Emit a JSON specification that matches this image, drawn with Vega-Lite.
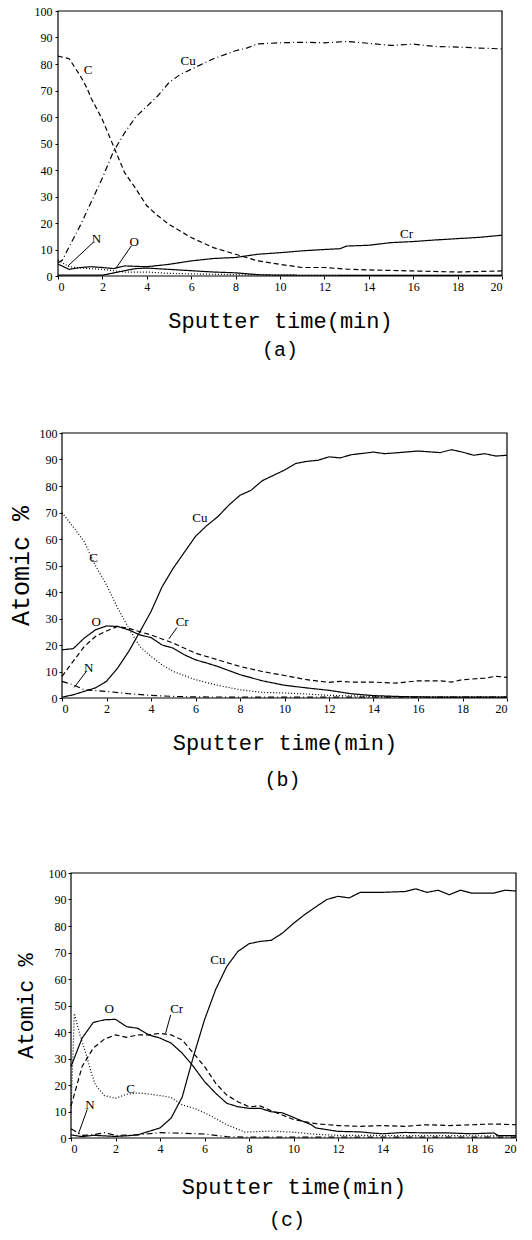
{
  "$schema": "https://vega.github.io/schema/vega-lite/v6.json",
  "padding": {"left": 8, "top": 5, "right": 0, "bottom": 0},
  "background": "white",
  "spacing": 77,
  "config": {
    "view": {"stroke": null},
    "axis": {"labelFont": "Liberation Serif", "labelFontSize": 12, "labelColor": "black", "tickColor": "black", "domain": false, "grid": false, "tickSize": 3, "labelPadding": 2, "labelOverlap": false, "titleFont": "Liberation Mono", "titleFontSize": 22, "titleFontWeight": "normal", "titleColor": "black"},
    "title": {"font": "Liberation Mono", "fontSize": 20, "fontWeight": "normal", "color": "black", "orient": "bottom", "anchor": "middle", "frame": "group"},
    "text": {"font": "Liberation Serif", "fontSize": 13, "color": "black"}
  },
  "resolve": {"scale": {"x": "independent", "y": "independent", "strokeDash": "independent"}},
  "datasets": {
    "frame": [{"t": 0, "v": 0, "t2": 20, "v2": 100}],
    "a_lines": [
      {"el":"Cu","t":0,"v":5},{"el":"Cu","t":0.2,"v":6},{"el":"Cu","t":0.5,"v":11},{"el":"Cu","t":1,"v":19},{"el":"Cu","t":1.5,"v":28},{"el":"Cu","t":2,"v":37},{"el":"Cu","t":2.5,"v":47},{"el":"Cu","t":3,"v":54},{"el":"Cu","t":3.5,"v":60},{"el":"Cu","t":4,"v":64},{"el":"Cu","t":4.5,"v":68},{"el":"Cu","t":5,"v":73},{"el":"Cu","t":5.5,"v":76},{"el":"Cu","t":6,"v":78},{"el":"Cu","t":7,"v":82},{"el":"Cu","t":8,"v":85},{"el":"Cu","t":8.5,"v":86},{"el":"Cu","t":9,"v":87.6},{"el":"Cu","t":10,"v":88},{"el":"Cu","t":11,"v":88.2},{"el":"Cu","t":12,"v":88},{"el":"Cu","t":13,"v":88.5},{"el":"Cu","t":14,"v":87.8},{"el":"Cu","t":15,"v":87},{"el":"Cu","t":16,"v":87.5},{"el":"Cu","t":17,"v":86.6},{"el":"Cu","t":18,"v":86.4},{"el":"Cu","t":19,"v":86},{"el":"Cu","t":20,"v":85.7},
      {"el":"C","t":0,"v":83},{"el":"C","t":0.5,"v":82},{"el":"C","t":1,"v":75.6},{"el":"C","t":1.3,"v":71},{"el":"C","t":1.5,"v":67},{"el":"C","t":2,"v":59},{"el":"C","t":2.5,"v":49},{"el":"C","t":3,"v":39},{"el":"C","t":3.5,"v":33},{"el":"C","t":4,"v":26.5},{"el":"C","t":4.5,"v":22.7},{"el":"C","t":5,"v":19.5},{"el":"C","t":5.5,"v":17},{"el":"C","t":6,"v":14.5},{"el":"C","t":7,"v":10.7},{"el":"C","t":8,"v":8.2},{"el":"C","t":9,"v":5.7},{"el":"C","t":10,"v":4.4},{"el":"C","t":11,"v":3.2},{"el":"C","t":12,"v":3.2},{"el":"C","t":13,"v":2.6},{"el":"C","t":14,"v":2.3},{"el":"C","t":16,"v":1.9},{"el":"C","t":18,"v":1.5},{"el":"C","t":20,"v":1.9},
      {"el":"Cr","t":0,"v":4.5},{"el":"Cr","t":0.5,"v":2.5},{"el":"Cr","t":1,"v":3.2},{"el":"Cr","t":1.5,"v":3.5},{"el":"Cr","t":2,"v":3.2},{"el":"Cr","t":2.5,"v":2.8},{"el":"Cr","t":3,"v":3.8},{"el":"Cr","t":4,"v":3.5},{"el":"Cr","t":5,"v":4.4},{"el":"Cr","t":6,"v":5.7},{"el":"Cr","t":7,"v":6.6},{"el":"Cr","t":8,"v":7},{"el":"Cr","t":9,"v":8.2},{"el":"Cr","t":10,"v":8.8},{"el":"Cr","t":11,"v":9.5},{"el":"Cr","t":12,"v":10},{"el":"Cr","t":12.7,"v":10.3},{"el":"Cr","t":13,"v":11.3},{"el":"Cr","t":14,"v":11.6},{"el":"Cr","t":15,"v":12.6},{"el":"Cr","t":16,"v":13},{"el":"Cr","t":17,"v":13.6},{"el":"Cr","t":18,"v":14.1},{"el":"Cr","t":19,"v":14.6},{"el":"Cr","t":20,"v":15.4},
      {"el":"N","t":0,"v":6},{"el":"N","t":0.5,"v":3.5},{"el":"N","t":1,"v":3},{"el":"N","t":2,"v":2.5},{"el":"N","t":3,"v":1.5},{"el":"N","t":4,"v":1.5},{"el":"N","t":5,"v":1},{"el":"N","t":6,"v":0.8},{"el":"N","t":8,"v":0.5},{"el":"N","t":10,"v":0.3},{"el":"N","t":20,"v":0.2},
      {"el":"O","t":0,"v":0.3},{"el":"O","t":2,"v":0.3},{"el":"O","t":3,"v":2},{"el":"O","t":3.5,"v":2.8},{"el":"O","t":4,"v":3},{"el":"O","t":5,"v":2.5},{"el":"O","t":6,"v":2},{"el":"O","t":7,"v":1.5},{"el":"O","t":8,"v":1.2},{"el":"O","t":9,"v":0.5},{"el":"O","t":10,"v":0.3},{"el":"O","t":20,"v":0.2}
    ],
    "a_labels": [
      {"text":"Cu","t":5.86,"v":81.3},{"text":"C","t":1.35,"v":77.6},{"text":"Cr","t":15.7,"v":15.8},{"text":"N","t":1.73,"v":14.1},{"text":"O","t":3.43,"v":12.9}
    ],
    "a_leads": [
      {"t":1.58,"v":12.6,"t2":0.45,"v2":3.8},{"t":3.3,"v":11.3,"t2":2.63,"v2":3.2}
    ],
    "b_lines": [
      {"el":"Cu","t":0,"v":0.3},{"el":"Cu","t":0.5,"v":1.2},{"el":"Cu","t":1,"v":2.5},{"el":"Cu","t":1.5,"v":3.8},{"el":"Cu","t":2,"v":6.3},{"el":"Cu","t":2.5,"v":11.3},{"el":"Cu","t":3,"v":17.6},{"el":"Cu","t":3.5,"v":25},{"el":"Cu","t":4,"v":32.6},{"el":"Cu","t":4.5,"v":42},{"el":"Cu","t":5,"v":49},{"el":"Cu","t":5.5,"v":55},{"el":"Cu","t":6,"v":61},{"el":"Cu","t":6.5,"v":65},{"el":"Cu","t":7,"v":68.4},{"el":"Cu","t":7.5,"v":72.8},{"el":"Cu","t":8,"v":76.5},{"el":"Cu","t":8.5,"v":78.4},{"el":"Cu","t":9,"v":82},{"el":"Cu","t":9.5,"v":84},{"el":"Cu","t":10,"v":86},{"el":"Cu","t":10.5,"v":88.5},{"el":"Cu","t":11,"v":89.3},{"el":"Cu","t":11.5,"v":89.7},{"el":"Cu","t":12,"v":91},{"el":"Cu","t":12.5,"v":90.6},{"el":"Cu","t":13,"v":91.8},{"el":"Cu","t":14,"v":92.8},{"el":"Cu","t":14.5,"v":92.2},{"el":"Cu","t":15,"v":92.5},{"el":"Cu","t":16,"v":93.2},{"el":"Cu","t":17,"v":92.6},{"el":"Cu","t":17.5,"v":93.7},{"el":"Cu","t":18,"v":92.8},{"el":"Cu","t":18.5,"v":91.6},{"el":"Cu","t":19,"v":92.2},{"el":"Cu","t":19.5,"v":91.3},{"el":"Cu","t":20,"v":91.6},
      {"el":"C","t":0,"v":70},{"el":"C","t":0.5,"v":64.6},{"el":"C","t":1,"v":59},{"el":"C","t":1.5,"v":50},{"el":"C","t":2,"v":42.7},{"el":"C","t":2.5,"v":34},{"el":"C","t":3,"v":26.3},{"el":"C","t":3.5,"v":19.4},{"el":"C","t":4,"v":15.7},{"el":"C","t":4.5,"v":12.5},{"el":"C","t":5,"v":10},{"el":"C","t":6,"v":6.9},{"el":"C","t":7,"v":4.8},{"el":"C","t":8,"v":3.1},{"el":"C","t":9,"v":2.1},{"el":"C","t":10,"v":1.9},{"el":"C","t":11,"v":1.5},{"el":"C","t":12,"v":1},{"el":"C","t":14,"v":0.6},{"el":"C","t":16,"v":0.4},{"el":"C","t":20,"v":0.4},
      {"el":"O","t":0,"v":18.2},{"el":"O","t":0.5,"v":18.6},{"el":"O","t":1,"v":22.6},{"el":"O","t":1.5,"v":25.7},{"el":"O","t":2,"v":27.2},{"el":"O","t":2.5,"v":27},{"el":"O","t":3,"v":25.7},{"el":"O","t":3.5,"v":23.8},{"el":"O","t":4,"v":22.8},{"el":"O","t":4.5,"v":20},{"el":"O","t":5,"v":18.8},{"el":"O","t":5.5,"v":16.3},{"el":"O","t":6,"v":14.4},{"el":"O","t":6.5,"v":13.2},{"el":"O","t":7,"v":11.9},{"el":"O","t":8,"v":8.8},{"el":"O","t":9,"v":6.5},{"el":"O","t":10,"v":4.8},{"el":"O","t":11,"v":3.8},{"el":"O","t":12,"v":2.9},{"el":"O","t":13,"v":1.6},{"el":"O","t":14,"v":0.9},{"el":"O","t":15,"v":0.6},{"el":"O","t":16,"v":0.4},{"el":"O","t":18,"v":0.3},{"el":"O","t":20,"v":0.3},
      {"el":"Cr","t":0,"v":8.2},{"el":"Cr","t":0.5,"v":13.8},{"el":"Cr","t":1,"v":19.4},{"el":"Cr","t":1.5,"v":23.2},{"el":"Cr","t":2,"v":25.3},{"el":"Cr","t":2.5,"v":27},{"el":"Cr","t":3,"v":26.3},{"el":"Cr","t":3.5,"v":25},{"el":"Cr","t":4,"v":23.8},{"el":"Cr","t":5,"v":20.7},{"el":"Cr","t":6,"v":16.9},{"el":"Cr","t":7,"v":14.4},{"el":"Cr","t":8,"v":11.9},{"el":"Cr","t":9,"v":10},{"el":"Cr","t":10,"v":8.5},{"el":"Cr","t":11,"v":6.9},{"el":"Cr","t":12,"v":5.9},{"el":"Cr","t":12.5,"v":6.3},{"el":"Cr","t":13,"v":6},{"el":"Cr","t":14,"v":6},{"el":"Cr","t":15,"v":5.6},{"el":"Cr","t":16,"v":6.5},{"el":"Cr","t":17,"v":6.5},{"el":"Cr","t":17.5,"v":6},{"el":"Cr","t":18,"v":6.9},{"el":"Cr","t":19,"v":7.5},{"el":"Cr","t":19.5,"v":8.2},{"el":"Cr","t":20,"v":7.8},
      {"el":"N","t":0,"v":6.3},{"el":"N","t":0.5,"v":5},{"el":"N","t":1,"v":3.1},{"el":"N","t":1.5,"v":2.8},{"el":"N","t":2,"v":2.5},{"el":"N","t":3,"v":1.6},{"el":"N","t":4,"v":1},{"el":"N","t":5,"v":0.6},{"el":"N","t":6,"v":0.4},{"el":"N","t":10,"v":0.3},{"el":"N","t":20,"v":0.3}
    ],
    "b_labels": [
      {"text":"Cu","t":6.2,"v":68},{"text":"C","t":1.42,"v":52.7},{"text":"O","t":1.54,"v":28.5},{"text":"Cr","t":5.4,"v":28.5},{"text":"N","t":1.2,"v":11.5}
    ],
    "b_leads": [
      {"t":5.17,"v":26.6,"t2":4.8,"v2":22.3},{"t":1.09,"v":10,"t2":0.55,"v2":4}
    ],
    "c_lines": [
      {"el":"Cu","t":0,"v":1.2},{"el":"Cu","t":0.5,"v":0.5},{"el":"Cu","t":1,"v":1},{"el":"Cu","t":1.5,"v":0.8},{"el":"Cu","t":2,"v":0.6},{"el":"Cu","t":2.5,"v":0.8},{"el":"Cu","t":3,"v":1.2},{"el":"Cu","t":3.5,"v":2.5},{"el":"Cu","t":4,"v":3.8},{"el":"Cu","t":4.5,"v":7.5},{"el":"Cu","t":5,"v":15.5},{"el":"Cu","t":5.5,"v":30.7},{"el":"Cu","t":6,"v":44.6},{"el":"Cu","t":6.5,"v":56},{"el":"Cu","t":7,"v":64.7},{"el":"Cu","t":7.5,"v":70.4},{"el":"Cu","t":8,"v":73.3},{"el":"Cu","t":8.5,"v":74.2},{"el":"Cu","t":9,"v":74.6},{"el":"Cu","t":9.5,"v":77.3},{"el":"Cu","t":10,"v":81},{"el":"Cu","t":10.5,"v":84.3},{"el":"Cu","t":11,"v":87.2},{"el":"Cu","t":11.5,"v":90},{"el":"Cu","t":12,"v":91.2},{"el":"Cu","t":12.5,"v":90.6},{"el":"Cu","t":13,"v":92.7},{"el":"Cu","t":14,"v":92.7},{"el":"Cu","t":15,"v":93},{"el":"Cu","t":15.5,"v":94},{"el":"Cu","t":16,"v":92.7},{"el":"Cu","t":16.5,"v":93.5},{"el":"Cu","t":17,"v":91.8},{"el":"Cu","t":17.5,"v":93.5},{"el":"Cu","t":18,"v":92.4},{"el":"Cu","t":19,"v":92.4},{"el":"Cu","t":19.5,"v":93.5},{"el":"Cu","t":20,"v":93.2},
      {"el":"O","t":0,"v":27},{"el":"O","t":0.5,"v":37.7},{"el":"O","t":1,"v":43.6},{"el":"O","t":1.5,"v":44.6},{"el":"O","t":2,"v":44.8},{"el":"O","t":2.5,"v":42},{"el":"O","t":3,"v":41.4},{"el":"O","t":3.5,"v":38.9},{"el":"O","t":4,"v":37.7},{"el":"O","t":4.5,"v":35.8},{"el":"O","t":5,"v":32},{"el":"O","t":5.5,"v":27},{"el":"O","t":6,"v":21.3},{"el":"O","t":6.5,"v":16.9},{"el":"O","t":7,"v":13.1},{"el":"O","t":7.5,"v":11.8},{"el":"O","t":8,"v":11.2},{"el":"O","t":8.5,"v":11.2},{"el":"O","t":9,"v":9.9},{"el":"O","t":9.5,"v":9.5},{"el":"O","t":10.8,"v":5},{"el":"O","t":11,"v":3.8},{"el":"O","t":12,"v":2.5},{"el":"O","t":13,"v":2.3},{"el":"O","t":13.5,"v":1.9},{"el":"O","t":14,"v":1.6},{"el":"O","t":15,"v":2.1},{"el":"O","t":16,"v":1.9},{"el":"O","t":17,"v":1.9},{"el":"O","t":18,"v":1.6},{"el":"O","t":19,"v":1.9},{"el":"O","t":19.2,"v":0.9},{"el":"O","t":20,"v":0.9},
      {"el":"Cr","t":0,"v":12},{"el":"Cr","t":0.5,"v":27},{"el":"Cr","t":1,"v":33.9},{"el":"Cr","t":1.5,"v":37.3},{"el":"Cr","t":2,"v":38.9},{"el":"Cr","t":2.5,"v":38},{"el":"Cr","t":3,"v":38.9},{"el":"Cr","t":3.5,"v":38.9},{"el":"Cr","t":4,"v":39.5},{"el":"Cr","t":4.5,"v":38.9},{"el":"Cr","t":5,"v":37},{"el":"Cr","t":5.5,"v":32},{"el":"Cr","t":6,"v":27},{"el":"Cr","t":6.5,"v":20.7},{"el":"Cr","t":7,"v":16.2},{"el":"Cr","t":7.5,"v":13.7},{"el":"Cr","t":8,"v":11.8},{"el":"Cr","t":8.5,"v":12.1},{"el":"Cr","t":9,"v":10.3},{"el":"Cr","t":10,"v":7},{"el":"Cr","t":11,"v":5.4},{"el":"Cr","t":12,"v":4.7},{"el":"Cr","t":13,"v":4.4},{"el":"Cr","t":14,"v":4.7},{"el":"Cr","t":15,"v":4.4},{"el":"Cr","t":16,"v":5},{"el":"Cr","t":17,"v":4.7},{"el":"Cr","t":18,"v":5},{"el":"Cr","t":19,"v":5.3},{"el":"Cr","t":20,"v":5},
      {"el":"C","t":0,"v":10},{"el":"C","t":0.15,"v":47},{"el":"C","t":0.4,"v":39},{"el":"C","t":0.7,"v":31},{"el":"C","t":0.9,"v":25},{"el":"C","t":1.1,"v":20},{"el":"C","t":1.5,"v":16},{"el":"C","t":2,"v":15},{"el":"C","t":2.5,"v":16.5},{"el":"C","t":3,"v":17},{"el":"C","t":3.5,"v":16.6},{"el":"C","t":4,"v":16},{"el":"C","t":4.5,"v":15.3},{"el":"C","t":5,"v":12.5},{"el":"C","t":5.6,"v":11},{"el":"C","t":6.2,"v":8.7},{"el":"C","t":7,"v":5},{"el":"C","t":7.8,"v":2.3},{"el":"C","t":8,"v":2.3},{"el":"C","t":9,"v":2.6},{"el":"C","t":10,"v":2.2},{"el":"C","t":11,"v":1.4},{"el":"C","t":12,"v":1},{"el":"C","t":20,"v":0.8},
      {"el":"N","t":0,"v":3.5},{"el":"N","t":0.5,"v":1},{"el":"N","t":1,"v":1.2},{"el":"N","t":1.5,"v":2},{"el":"N","t":2,"v":1},{"el":"N","t":3,"v":1.2},{"el":"N","t":4,"v":2},{"el":"N","t":5,"v":1.8},{"el":"N","t":6,"v":1.5},{"el":"N","t":7,"v":0.5},{"el":"N","t":8,"v":0.3},{"el":"N","t":20,"v":0.3}
    ],
    "c_labels": [
      {"text":"Cu","t":6.6,"v":67.2},{"text":"O","t":1.72,"v":48.7},{"text":"Cr","t":4.75,"v":48.6},{"text":"C","t":2.68,"v":18.4},{"text":"N","t":0.85,"v":12.5}
    ],
    "c_leads": [
      {"t":4.48,"v":46.5,"t2":4.25,"v2":39.5},{"t":0.73,"v":10.8,"t2":0.33,"v2":1.5}
    ]
  },
  "vconcat": [
    {
      "spacing": 67,
      "resolve": {"scale": {"x": "independent", "y": "independent", "strokeDash": "independent"}},
      "vconcat": [
        {
          "width": 444, "height": 265,
          "title": {"text": "(a)", "offset": 9},
          "encoding": {
            "x": {"field": "t", "type": "quantitative", "scale": {"domain": [0, 20], "range": [0, 444], "nice": false}, "axis": {"values": [0,2,4,6,8,10,12,14,16,18,20], "labelOverlap": false, "title": "Sputter time(min)", "titlePadding": 18}},
            "y": {"field": "v", "type": "quantitative", "scale": {"domain": [0, 100], "nice": false}, "axis": {"values": [0,10,20,30,40,50,60,70,80,90,100], "labelOverlap": false, "title": null, "labelPadding": 3}}
          },
          "layer": [
            {
              "data": {"name": "a_lines"},
              "mark": {"type": "line", "color": "black", "strokeWidth": 1.2},
              "encoding": {
                "strokeDash": {"field": "el", "type": "nominal", "legend": null, "scale": {"domain": ["Cu","C","Cr","N","O"], "range": [[6,3,1,3],[5,3],[1,0],[1,2],[1,0]]}}
              }
            },
            {
              "data": {"name": "a_labels"},
              "mark": {"type": "text"},
              "encoding": {"text": {"field": "text"}}
            },
            {
              "data": {"name": "a_leads"},
              "mark": {"type": "rule", "color": "black", "strokeWidth": 1},
              "encoding": {"x2": {"field": "t2"}, "y2": {"field": "v2"}}
            },
            {
              "data": {"name": "frame"},
              "mark": {"type": "rect", "fill": "transparent", "stroke": "black", "strokeWidth": 1.2},
              "encoding": {"x2": {"field": "t2"}, "y2": {"field": "v2"}}
            }
          ]
        },
        {
          "width": 449, "height": 265,
          "title": {"text": "(b)", "offset": 17},
          "encoding": {
            "x": {"field": "t", "type": "quantitative", "scale": {"domain": [0, 20], "range": [4, 449], "nice": false}, "axis": {"values": [0,2,4,6,8,10,12,14,16,18,20], "labelOverlap": false, "title": "Sputter time(min)", "titlePadding": 18}},
            "y": {"field": "v", "type": "quantitative", "scale": {"domain": [0, 100], "nice": false}, "axis": {"values": [0,10,20,30,40,50,60,70,80,90,100], "labelOverlap": false, "title": "Atomic %", "titleFontSize": 25, "offset": -4, "labelPadding": 2, "minExtent": 24, "maxExtent": 24, "titlePadding": 5}}
          },
          "layer": [
            {
              "data": {"name": "b_lines"},
              "mark": {"type": "line", "color": "black", "strokeWidth": 1.2},
              "encoding": {
                "strokeDash": {"field": "el", "type": "nominal", "legend": null, "scale": {"domain": ["Cu","C","O","Cr","N"], "range": [[1,0],[1,2],[1,0],[5,3],[6,3,1,3]]}}
              }
            },
            {
              "data": {"name": "b_labels"},
              "mark": {"type": "text"},
              "encoding": {"text": {"field": "text"}}
            },
            {
              "data": {"name": "b_leads"},
              "mark": {"type": "rule", "color": "black", "strokeWidth": 1},
              "encoding": {"x2": {"field": "t2"}, "y2": {"field": "v2"}}
            },
            {
              "data": {"name": "frame"},
              "mark": {"type": "rect", "fill": "transparent", "stroke": "black", "strokeWidth": 1.2},
              "encoding": {"x2": {"field": "t2"}, "y2": {"field": "v2"}}
            }
          ]
        }
      ]
    },
    {
      "width": 458, "height": 265,
      "title": {"text": "(c)", "offset": 13},
      "encoding": {
        "x": {"field": "t", "type": "quantitative", "scale": {"domain": [0, 20], "range": [13, 458], "nice": false}, "axis": {"values": [0,2,4,6,8,10,12,14,16,18,20], "labelOverlap": false, "title": "Sputter time(min)", "titlePadding": 22}},
        "y": {"field": "v", "type": "quantitative", "scale": {"domain": [0, 100], "nice": false}, "axis": {"values": [0,10,20,30,40,50,60,70,80,90,100], "labelOverlap": false, "title": "Atomic %", "offset": -13, "labelPadding": 2, "minExtent": 24, "maxExtent": 24, "titlePadding": 10}}
      },
      "layer": [
        {
          "data": {"name": "c_lines"},
          "mark": {"type": "line", "color": "black", "strokeWidth": 1.2},
          "encoding": {
            "strokeDash": {"field": "el", "type": "nominal", "legend": null, "scale": {"domain": ["Cu","O","Cr","C","N"], "range": [[1,0],[1,0],[5,3],[1,2],[6,3,1,3]]}}
          }
        },
        {
          "data": {"name": "c_labels"},
          "mark": {"type": "text"},
          "encoding": {"text": {"field": "text"}}
        },
        {
          "data": {"name": "c_leads"},
          "mark": {"type": "rule", "color": "black", "strokeWidth": 1},
          "encoding": {"x2": {"field": "t2"}, "y2": {"field": "v2"}}
        },
        {
          "data": {"name": "frame"},
          "mark": {"type": "rect", "fill": "transparent", "stroke": "black", "strokeWidth": 1.2},
          "encoding": {"x2": {"field": "t2"}, "y2": {"field": "v2"}}
        }
      ]
    }
  ]
}
